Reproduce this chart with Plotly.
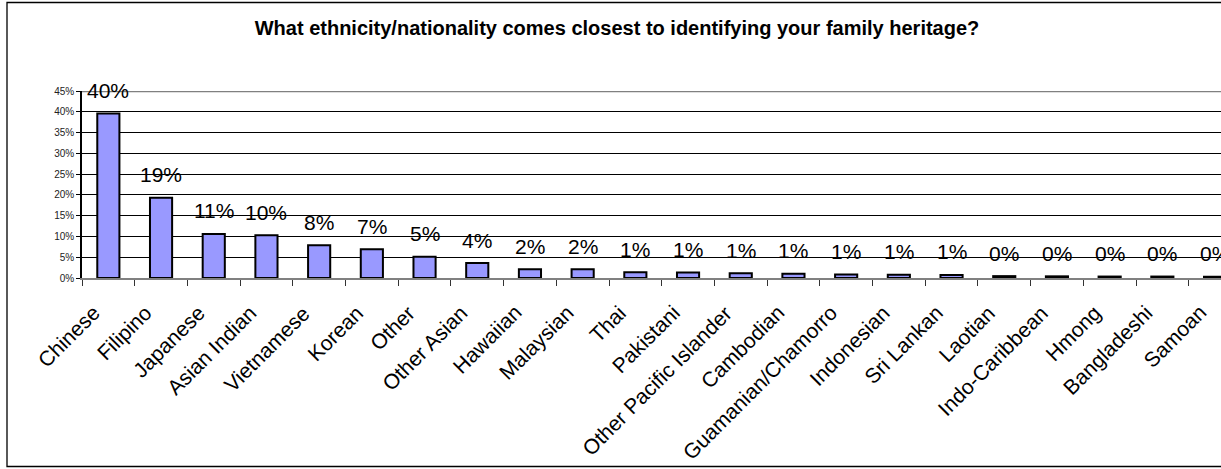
import plotly.graph_objects as go

# Survey responses: share of respondents per heritage group
categories = [
    "Chinese", "Filipino", "Japanese", "Asian Indian", "Vietnamese", "Korean",
    "Other", "Other Asian", "Hawaiian", "Malaysian", "Thai", "Pakistani",
    "Other Pacific Islander", "Cambodian", "Guamanian/Chamorro", "Indonesian",
    "Sri Lankan", "Laotian", "Indo-Caribbean", "Hmong", "Bangladeshi", "Samoan",
]
shares = [
    0.396, 0.193, 0.106, 0.103, 0.079, 0.069,
    0.051, 0.036, 0.021, 0.021, 0.014, 0.0135,
    0.0115, 0.010, 0.0085, 0.008,
    0.0075, 0.0045, 0.004, 0.0035, 0.0035, 0.003,
]
y_ticks = [0, 0.05, 0.10, 0.15, 0.20, 0.25, 0.30, 0.35, 0.40, 0.45]
title_text = "What ethnicity/nationality comes closest to identifying your family heritage?"

FONT = "Liberation Sans, Arial, sans-serif"
W, H = 1221, 469
L, T, B = 82, 91, 191
plot_w = W - L
plot_h = H - T - B
cat_px = 52.7  # width of one category slot in pixels

x_idx = list(range(len(categories)))
boundaries = [i - 0.5 for i in range(len(categories) + 1)]

fig = go.Figure(
    go.Bar(
        x=x_idx,
        y=shares,
        marker=dict(color="#9999FF", line=dict(color="black", width=2)),
        width=0.42,
        hoverinfo="skip",
    )
)

# Percentage labels floating above each bar
for i, v in enumerate(shares):
    fig.add_annotation(
        x=i, y=v, text=f"{v:.0%}", showarrow=False,
        yshift=23, yanchor="middle", xanchor="center",
        font=dict(family=FONT, size=21, color="black"),
    )

# Category names, slanted at 45 degrees and ending just left of each slot centre
for i, name in enumerate(categories):
    fig.add_annotation(
        x=i, y=0, text=name, showarrow=False, textangle=-45,
        xanchor="right", yanchor="top", xshift=-2, yshift=-20,
        font=dict(family=FONT, size=21, color="black"),
    )

# Grey top border of the plotting area at 45%
fig.add_shape(type="line", xref="paper", yref="y", x0=0, x1=1, y0=0.45, y1=0.45,
              line=dict(color="#808080", width=2.5), layer="above")

# Outer chart frame
fig.add_shape(
    type="rect", xref="paper", yref="paper",
    x0=(7 - L) / plot_w, x1=1.05,
    y0=-(466.5 - (H - B)) / plot_h, y1=((H - B) - 2.5) / plot_h,
    line=dict(color="black", width=1.3), fillcolor="rgba(0,0,0,0)",
)

fig.update_layout(
    width=W, height=H,
    margin=dict(l=L, r=0, t=T, b=B, pad=0),
    paper_bgcolor="white", plot_bgcolor="white",
    showlegend=False,
    title=dict(text=f"<b>{title_text}</b>", x=617 / W, xanchor="center",
               y=1 - 28 / H, yanchor="middle", xref="container", yref="container",
               font=dict(family=FONT, size=20, color="black")),
    xaxis=dict(
        range=[-0.5, plot_w / cat_px - 0.5],
        tickmode="array", tickvals=x_idx, showticklabels=False, ticks="",
        minor=dict(tickmode="array", tickvals=boundaries, ticks="outside",
                   ticklen=6, tickcolor="#333333", tickwidth=1, showgrid=False),
        showline=True, linecolor="#808080", linewidth=2,
        showgrid=False, zeroline=False,
    ),
    yaxis=dict(
        range=[0, 0.45], tickmode="array", tickvals=y_ticks,
        tickformat=".0%", ticks="outside", ticklen=4, tickcolor="black",
        showline=True, linecolor="black", linewidth=1.5,
        showgrid=True, gridcolor="black", gridwidth=1, zeroline=False,
        tickfont=dict(family=FONT, size=10, color="#222222"),
    ),
)

fig.write_html("out.html")
